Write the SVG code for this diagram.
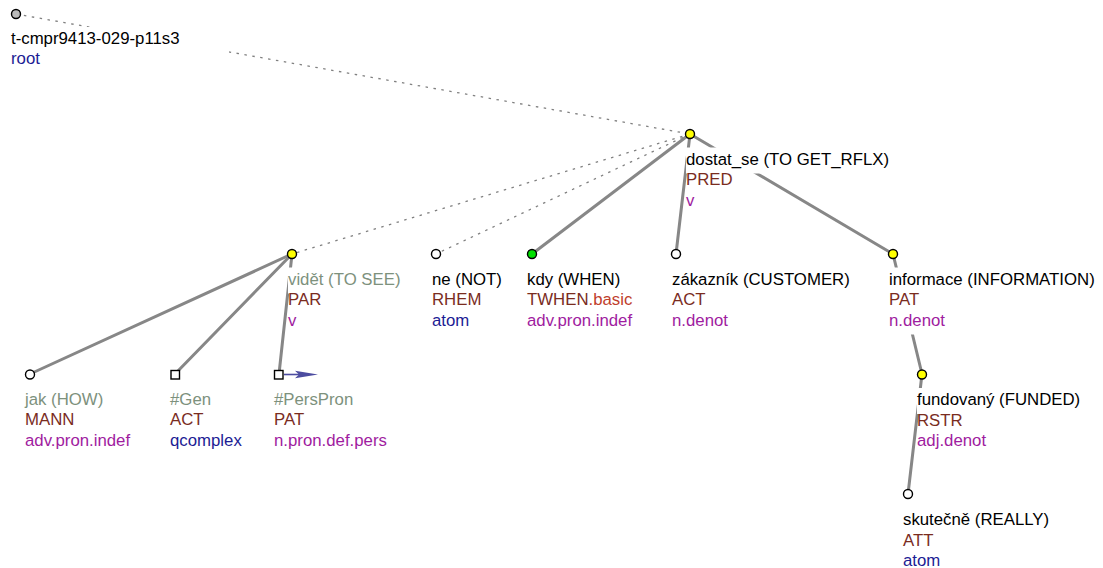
<svg xmlns="http://www.w3.org/2000/svg" width="1103" height="568" viewBox="0 0 1103 568">
  <style>
    text { font-family: "Liberation Sans", Arial, sans-serif; font-size: 16.8px; }
    .lbl { fill: #000000; }
    .hid { fill: #7d917d; }
    .fn { fill: #7a2c1e; }
    .fnx { fill: #c0402c; }
    .nt { fill: #a01ca0; }
    .nb { fill: #1c1c94; }
    .bg { fill: #ffffff; }
    .edge { stroke: #878787; stroke-width: 3; fill: none; stroke-linecap: round; }
    .dot { stroke: #808080; stroke-width: 1.3; fill: none; stroke-dasharray: 2.5 5.5; }
    .nd { stroke: #000000; stroke-width: 1.4; }
    .yel { fill: #ffff00; }
    .wht { fill: #ffffff; }
    .grn { fill: #00e000; }
    .gry { fill: #bbbbbb; }
    .coref { stroke: #4c4ca0; stroke-width: 1.6; fill: none; }
  </style>

  <!-- tree edges -->
  <g id="connectors">
    <line class="dot" x1="16" y1="14" x2="690" y2="134"/>
    <line class="dot" x1="690" y1="134" x2="292" y2="254"/>
    <line class="dot" x1="690" y1="134" x2="436" y2="254"/>
    <line class="edge" x1="690" y1="134" x2="532" y2="254"/>
    <line class="edge" x1="690" y1="134" x2="676" y2="254"/>
    <line class="edge" x1="690" y1="134" x2="893" y2="254"/>
    <line class="edge" x1="292" y1="254" x2="30" y2="374"/>
    <line class="edge" x1="292" y1="254" x2="175" y2="374"/>
    <line class="edge" x1="292" y1="254" x2="279" y2="374"/>
    <line class="edge" x1="893" y1="254" x2="922" y2="374"/>
    <line class="edge" x1="922" y1="374" x2="908" y2="494"/>
    <!-- coreference arrow -->
    <line class="coref" x1="284" y1="374.5" x2="299" y2="374.5"/>
    <polygon points="295,370.8 318,374.5 295,378.2 299,374.5" fill="#4c4ca0"/>
  </g>

  <g id="n-root">
    <rect class="bg" x="11" y="27" width="218" height="26"/>
    <text x="11" y="43.5" class="lbl">t-cmpr9413-029-p11s3</text>
    <text x="11" y="64" class="nb">root</text>
    <circle class="nd gry" cx="16" cy="14" r="4.5"/>
  </g>

  <g id="n-dostat">
    <rect class="bg" x="686" y="147.5" width="204" height="26"/>
    <text x="686" y="164.5" class="lbl">dostat_se (TO GET_RFLX)</text>
    <text x="686" y="185" class="fn">PRED</text>
    <text x="686" y="205.5" class="nt">v</text>
    <circle class="nd yel" cx="690" cy="134" r="4.5"/>
  </g>

  <g id="n-videt">
    <rect class="bg" x="288" y="267.5" width="114" height="26"/>
    <text x="288" y="284.5" class="hid">vidět (TO SEE)</text>
    <text x="288" y="305" class="fn">PAR</text>
    <text x="288" y="325.5" class="nt">v</text>
    <circle class="nd yel" cx="292" cy="254" r="4.5"/>
  </g>

  <g id="n-ne">
    <text x="432" y="284.5" class="lbl">ne (NOT)</text>
    <text x="432" y="305" class="fn">RHEM</text>
    <text x="432" y="325.5" class="nb">atom</text>
    <circle class="nd wht" cx="436" cy="254" r="4.5"/>
  </g>

  <g id="n-kdy">
    <text x="527" y="284.5" class="lbl">kdy (WHEN)</text>
    <text x="527" y="305" class="fn">TWHEN<tspan class="fnx">.basic</tspan></text>
    <text x="527" y="325.5" class="nt">adv.pron.indef</text>
    <circle class="nd grn" cx="532" cy="254" r="4.5"/>
  </g>

  <g id="n-zakaznik">
    <text x="672" y="284.5" class="lbl">zákazník (CUSTOMER)</text>
    <text x="672" y="305" class="fn">ACT</text>
    <text x="672" y="325.5" class="nt">n.denot</text>
    <circle class="nd wht" cx="676" cy="254" r="4.5"/>
  </g>

  <g id="n-informace">
    <rect class="bg" x="889" y="267.5" width="210" height="26"/>
    <rect class="bg" x="889" y="288" width="34" height="26"/>
    <rect class="bg" x="889" y="308.5" width="57" height="26"/>
    <text x="889" y="284.5" class="lbl">informace (INFORMATION)</text>
    <text x="889" y="305" class="fn">PAT</text>
    <text x="889" y="325.5" class="nt">n.denot</text>
    <circle class="nd yel" cx="893" cy="254" r="4.5"/>
  </g>

  <g id="n-jak">
    <text x="25" y="404.5" class="hid">jak (HOW)</text>
    <text x="25" y="425" class="fn">MANN</text>
    <text x="25" y="445.5" class="nt">adv.pron.indef</text>
    <circle class="nd wht" cx="30" cy="374.5" r="4.5"/>
  </g>

  <g id="n-gen">
    <text x="170" y="404.5" class="hid">#Gen</text>
    <text x="170" y="425" class="fn">ACT</text>
    <text x="170" y="445.5" class="nb">qcomplex</text>
    <rect class="nd wht" x="171" y="370.5" width="8.5" height="8.5"/>
  </g>

  <g id="n-perspron">
    <text x="274" y="404.5" class="hid">#PersPron</text>
    <text x="274" y="425" class="fn">PAT</text>
    <text x="274" y="445.5" class="nt">n.pron.def.pers</text>
    <rect class="nd wht" x="274.5" y="370.5" width="8.5" height="8.5"/>
  </g>

  <g id="n-fundovany">
    <rect class="bg" x="917" y="388" width="163" height="26"/>
    <text x="917" y="405" class="lbl">fundovaný (FUNDED)</text>
    <text x="917" y="425.5" class="fn">RSTR</text>
    <text x="917" y="446" class="nt">adj.denot</text>
    <circle class="nd yel" cx="922" cy="374.5" r="4.5"/>
  </g>

  <g id="n-skutecne">
    <text x="903" y="525" class="lbl">skutečně (REALLY)</text>
    <text x="903" y="545.5" class="fn">ATT</text>
    <text x="903" y="566" class="nb">atom</text>
    <circle class="nd wht" cx="908" cy="494" r="4.5"/>
  </g>
</svg>
